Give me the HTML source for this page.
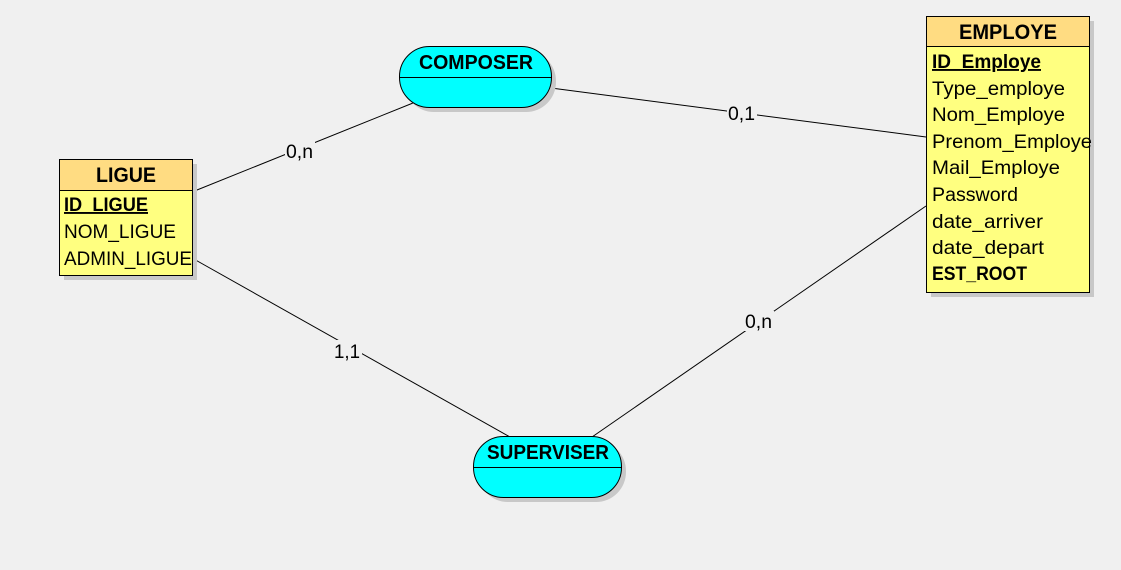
<!DOCTYPE html>
<html><head><meta charset="utf-8"><style>
html,body{margin:0;padding:0;background:#f0f0f0;}
svg{display:block;font-family:"Liberation Sans",sans-serif;}
</style></head><body>
<svg width="1121" height="570" viewBox="0 0 1121 570">
<rect width="1121" height="570" fill="#f0f0f0"/>
<g stroke="#000" stroke-width="1">
<line x1="192" y1="192" x2="413" y2="103"/>
<line x1="551" y1="88" x2="926" y2="137"/>
<line x1="192" y1="258" x2="510" y2="437"/>
<line x1="592" y1="437" x2="926" y2="206"/>
</g>
<g font-size="19" fill="#000">
<rect x="285" y="141" width="30" height="20" fill="#f0f0f0"/>
<text x="286" y="158" textLength="27" lengthAdjust="spacingAndGlyphs">0,n</text>
<rect x="727" y="104" width="30" height="20" fill="#f0f0f0"/>
<text x="728" y="120" textLength="27" lengthAdjust="spacingAndGlyphs">0,1</text>
<rect x="333" y="340" width="29" height="22" fill="#f0f0f0"/>
<text x="334" y="358" textLength="26" lengthAdjust="spacingAndGlyphs">1,1</text>
<rect x="744" y="311" width="30" height="20" fill="#f0f0f0"/>
<text x="745" y="328" textLength="27" lengthAdjust="spacingAndGlyphs">0,n</text>
</g>
<!-- LIGUE -->
<rect x="64" y="164" width="133" height="116" fill="#c8c8c8"/>
<rect x="59.5" y="159.5" width="133" height="116" fill="#ffff80" stroke="#000"/>
<rect x="60" y="160" width="132" height="30" fill="#ffdc82"/>
<line x1="59.5" y1="190.5" x2="192.5" y2="190.5" stroke="#000"/>
<text x="126" y="182" text-anchor="middle" font-weight="bold" font-size="21" textLength="60" lengthAdjust="spacingAndGlyphs">LIGUE</text>
<g font-size="19" lengthAdjust="spacingAndGlyphs">
<text x="64" y="211" font-weight="bold" text-decoration="underline" textLength="84" lengthAdjust="spacingAndGlyphs">ID_LIGUE</text>
<text x="64" y="238" textLength="112" lengthAdjust="spacingAndGlyphs">NOM_LIGUE</text>
<text x="64" y="265" textLength="128" lengthAdjust="spacingAndGlyphs">ADMIN_LIGUE</text>
</g>
<!-- EMPLOYE -->
<rect x="931" y="21" width="163" height="276" fill="#c8c8c8"/>
<rect x="926.5" y="16.5" width="163" height="276" fill="#ffff80" stroke="#000"/>
<rect x="927" y="17" width="162" height="29" fill="#ffdc82"/>
<line x1="926.5" y1="46.5" x2="1089.5" y2="46.5" stroke="#000"/>
<text x="1008" y="39" text-anchor="middle" font-weight="bold" font-size="21" textLength="98" lengthAdjust="spacingAndGlyphs">EMPLOYE</text>
<g font-size="19">
<text x="932" y="68" font-weight="bold" text-decoration="underline" textLength="109" lengthAdjust="spacingAndGlyphs">ID_Employe</text>
<text x="932" y="95" textLength="133" lengthAdjust="spacingAndGlyphs">Type_employe</text>
<text x="932" y="121" textLength="133" lengthAdjust="spacingAndGlyphs">Nom_Employe</text>
<text x="932" y="148" textLength="160" lengthAdjust="spacingAndGlyphs">Prenom_Employe</text>
<text x="932" y="174" textLength="128" lengthAdjust="spacingAndGlyphs">Mail_Employe</text>
<text x="932" y="201" textLength="86" lengthAdjust="spacingAndGlyphs">Password</text>
<text x="932" y="228" textLength="111" lengthAdjust="spacingAndGlyphs">date_arriver</text>
<text x="932" y="254" textLength="112" lengthAdjust="spacingAndGlyphs">date_depart</text>
<text x="932" y="280" font-weight="bold" textLength="95" lengthAdjust="spacingAndGlyphs">EST_ROOT</text>
</g>
<!-- COMPOSER -->
<rect x="404" y="51" width="152" height="61" rx="30" fill="#c8c8c8"/>
<rect x="399.5" y="46.5" width="152" height="61" rx="30" fill="#00ffff" stroke="#000"/>
<line x1="399.5" y1="77.5" x2="551.5" y2="77.5" stroke="#000"/>
<text x="476" y="69" text-anchor="middle" font-weight="bold" font-size="20" textLength="114" lengthAdjust="spacingAndGlyphs">COMPOSER</text>
<!-- SUPERVISER -->
<rect x="478" y="441" width="148" height="61" rx="30" fill="#c8c8c8"/>
<rect x="473.5" y="436.5" width="148" height="61" rx="30" fill="#00ffff" stroke="#000"/>
<line x1="473.5" y1="467.5" x2="621.5" y2="467.5" stroke="#000"/>
<text x="548" y="459" text-anchor="middle" font-weight="bold" font-size="20" textLength="122" lengthAdjust="spacingAndGlyphs">SUPERVISER</text>
</svg>
</body></html>
